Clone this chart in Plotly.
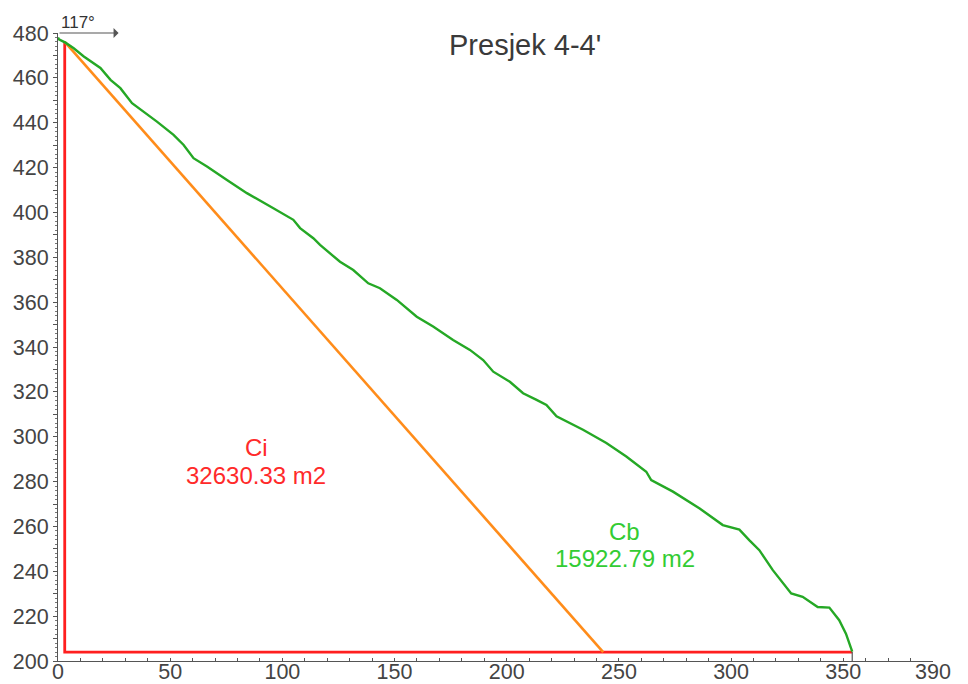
import plotly.graph_objects as go

# Terrain profile (green)
terrain_x = [0, 0.4, 3.3, 7, 11.5, 14.5, 18.9, 23.4, 27.8, 33, 38.2, 44.1, 51.5, 56, 60.4,
             66.4, 75.3, 84.2, 96, 104.9, 107.9, 113.8, 116.8, 125.7, 131.6, 138.3, 143.5,
             151, 159.9, 167.2, 176.1, 183.6, 189.5, 194, 201.4, 207.3, 213.3, 217.7, 222.2,
             234, 244.4, 253.3, 262.2, 264.4, 274.1, 286, 296.3, 303.7, 308.2, 312.6, 318.6,
             326.8, 331.9, 338.6, 343.8, 348.2, 351.2, 354]
terrain_y = [478, 477.2, 475.7, 473.2, 469.5, 467.3, 464.4, 459.1, 455.4, 448.7, 445, 440.5,
             434.6, 430.1, 424.2, 420.5, 414.5, 408.6, 401.9, 396.7, 393.0, 388.5, 385.5, 378.0,
             374.3, 368.4, 366.2, 361, 353.5, 349.1, 343.1, 338.7, 334.2, 329, 324.5, 319.4,
             316.4, 314.2, 309.1, 303.1, 297.2, 291.2, 284.4, 280.7, 275.5, 268, 260.6, 258.6,
             253.8, 249.4, 240.5, 230.1, 228.6, 224.1, 223.8, 218.2, 212.2, 204.2]

# Boundary (red) and slope line (orange)
boundary_x = [3, 3, 354]
boundary_y = [476, 204, 204]
slope_x = [3, 243]
slope_y = [476, 204]
end_tick_x = [354, 354]
end_tick_y = [200, 204]

# Axis ticks
x_tickvals = list(range(0, 391, 10))
x_ticktext = [str(v) if (v % 50 == 0 or v == 390) else "" for v in x_tickvals]
y_tickvals = list(range(200, 481, 10))
y_ticktext = [str(v) if v % 20 == 0 else "" for v in y_tickvals]

title_text = "Presjek 4-4'"
ci_name, ci_area = "Ci", "32630.33 m2"
cb_name, cb_area = "Cb", "15922.79 m2"
angle_label = "117°"

fig = go.Figure()
fig.add_trace(go.Scatter(x=boundary_x, y=boundary_y, mode="lines",
                         line=dict(color="#ff1f1f", width=2.8), hoverinfo="skip"))
fig.add_trace(go.Scatter(x=slope_x, y=slope_y, mode="lines",
                         line=dict(color="#ff8c1a", width=2.6), hoverinfo="skip"))
fig.add_trace(go.Scatter(x=terrain_x, y=terrain_y, mode="lines",
                         line=dict(color="#25a825", width=2.4), hoverinfo="skip"))
fig.add_trace(go.Scatter(x=end_tick_x, y=end_tick_y, mode="lines",
                         line=dict(color="#555555", width=1.2), hoverinfo="skip"))

font_family = "Liberation Sans, Arial, sans-serif"
fig.add_annotation(x=208, y=474.6, text=title_text, showarrow=False,
                   font=dict(family=font_family, size=29, color="#3a3a3a"))
fig.add_annotation(x=88.3, y=295.0, text=ci_name, showarrow=False, borderpad=0,
                   font=dict(family=font_family, size=24, color="#ff2a2a"))
fig.add_annotation(x=88.3, y=282.9, text=ci_area, showarrow=False, borderpad=0,
                   font=dict(family=font_family, size=24, color="#ff2a2a"))
fig.add_annotation(x=252.6, y=257.8, text=cb_name, showarrow=False, borderpad=0,
                   font=dict(family=font_family, size=24, color="#33cc33"))
fig.add_annotation(x=252.6, y=245.7, text=cb_area, showarrow=False, borderpad=0,
                   font=dict(family=font_family, size=24, color="#33cc33"))
fig.add_annotation(x=8.7, xref="x", y=1, yref="paper", yanchor="bottom", yshift=-1,
                   text=angle_label, showarrow=False,
                   font=dict(family=font_family, size=17, color="#333333"))
fig.add_annotation(x=27, y=480, ax=0, ay=480, axref="x", ayref="y", xref="x", yref="y",
                   text="", showarrow=True, arrowhead=1, arrowsize=1.4, arrowwidth=1.2,
                   arrowcolor="#555555")

# page body has an 8px offset, so the figure is sized to fill the 968x684 window
fig.update_layout(
    width=960, height=676,
    margin=dict(l=49.5, r=35, t=25, b=23, autoexpand=False),
    paper_bgcolor="white", plot_bgcolor="white",
    showlegend=False,
    font=dict(family=font_family, size=16, color="#444444"),
)
fig.update_xaxes(range=[0, 390], showgrid=False, zeroline=False, automargin=False,
                 showline=True, linecolor="#555555", linewidth=1.2,
                 tickvals=x_tickvals, ticktext=x_ticktext,
                 ticks="inside", ticklen=3, tickcolor="#555555",
                 ticklabelstandoff=-9,
                 tickfont=dict(size=21.5, color="#444444"))
fig.update_yaxes(range=[200, 480], showgrid=False, zeroline=False, automargin=False,
                 showline=True, linecolor="#555555", linewidth=1.2,
                 tickvals=y_tickvals, ticktext=y_ticktext,
                 ticks="outside", ticklen=4, tickcolor="#555555",
                 minor=dict(dtick=2, ticks="outside", ticklen=2, tickcolor="#777777"),
                 tickfont=dict(size=21.5, color="#444444"))

fig.write_html("out.html")
